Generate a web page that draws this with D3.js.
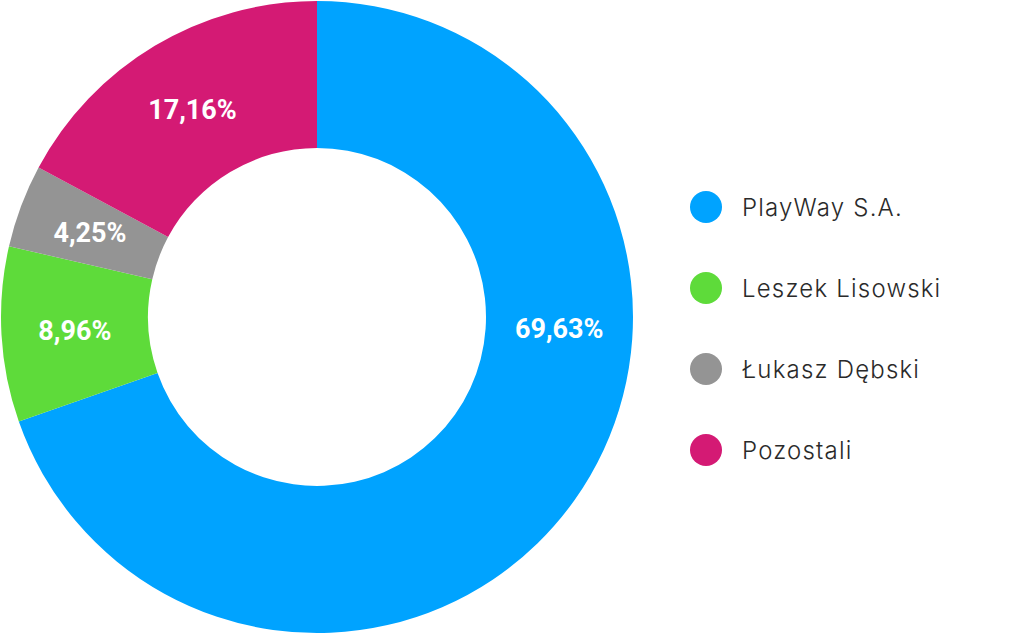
<!DOCTYPE html>
<html><head><meta charset="utf-8">
<script src="https://cdn.jsdelivr.net/npm/d3@7"></script>
<style>html,body{margin:0;padding:0;background:#fff;}svg{display:block;}</style>
</head><body>
<svg id="chart" width="1024" height="634"></svg>
<script>
const categories = ["PlayWay S.A.", "Leszek Lisowski", "Łukasz Dębski", "Pozostali"];
const values = [69.63, 8.96, 4.25, 17.16];
const labels = ["69,63%", "8,96%", "4,25%", "17,16%"];
const colors = ["#00A3FF", "#5EDB3A", "#949494", "#D41A74"];
const labelAngleDeg = [92.6, null, null, null];

const svg = d3.select("#chart");
const cx = 317, cy = 317, rOuter = 316, rInner = 169;
const g = svg.append("g").attr("transform", `translate(${cx},${cy})`);
const data = categories.map((c, i) => ({name: c, value: values[i], label: labels[i], color: colors[i], la: labelAngleDeg[i]}));
const pie = d3.pie().value(d => d.value).sort(null);
const arc = d3.arc().innerRadius(rInner).outerRadius(rOuter);
const arcs = pie(data);
g.selectAll("path").data(arcs).join("path").attr("d", arc).attr("fill", d => d.data.color);
const rl = (rInner + rOuter) / 2;
g.selectAll("text").data(arcs).join("text")
  .attr("transform", d => {
    let p;
    if (d.data.la != null) { const a = d.data.la * Math.PI / 180; p = [rl * Math.sin(a), -rl * Math.cos(a)]; }
    else p = arc.centroid(d);
    return `translate(${p[0]},${p[1]})`;
  })
  .attr("text-anchor", "middle").attr("dy", "0.36em")
  .attr("fill", "#fff").attr("font-family", "Roboto, sans-serif").attr("font-weight", 700).attr("font-size", 27)
  .text(d => d.data.label);

const ly = d3.scalePoint().domain(categories).range([207, 450]);
const lg = svg.append("g");
const items = lg.selectAll("g").data(data).join("g").attr("transform", d => `translate(706,${ly(d.name)})`);
items.append("circle").attr("r", 16).attr("fill", d => d.color);
items.append("text").attr("x", 36).attr("dy", "0.36em")
  .attr("font-family", "Inter, 'Noto Sans', sans-serif").attr("font-weight", 300).attr("font-size", 24)
  .attr("letter-spacing", 1.2)
  .attr("fill", "#2a2a2a").text(d => d.name);
</script>
</body></html>
